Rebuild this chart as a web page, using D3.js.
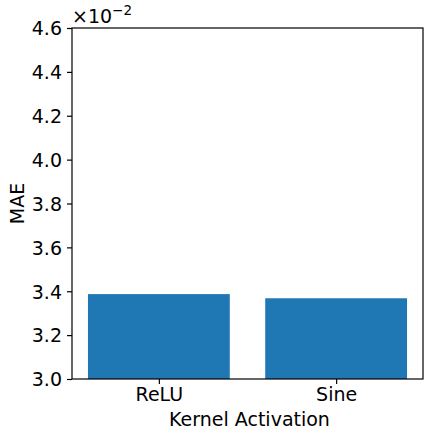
<!DOCTYPE html>
<html><head><meta charset="utf-8">
<script src="https://cdn.jsdelivr.net/npm/d3@7"></script>
<style>body{margin:0;background:#fff}svg{display:block}text{font-family:"DejaVu Sans",sans-serif;fill:#000}</style>
</head><body>
<script>
const categories = ["ReLU", "Sine"];
const maeValues = [3.387, 3.368]; // in units of 1e-2
const yTicks = [3.0, 3.2, 3.4, 3.6, 3.8, 4.0, 4.2, 4.4, 4.6];

const W = 432, H = 439;
const m = {left: 72, right: 9, top: 28, bottom: 60};
const FS = 19;
const svg = d3.select("body").append("svg").attr("width", W).attr("height", H);
const x = d3.scaleLinear().domain([-0.49, 1.49]).range([m.left, W - m.right]);
const y = d3.scaleLinear().domain([3.0, 4.6]).range([H - m.bottom, m.top]);

svg.selectAll("rect.bar").data(categories).join("rect").attr("class", "bar")
  .attr("x", (d, i) => x(i - 0.4)).attr("width", (d, i) => x(i + 0.4) - x(i - 0.4))
  .attr("y", (d, i) => y(maeValues[i])).attr("height", (d, i) => y(3.0) - y(maeValues[i]))
  .attr("fill", "#1f77b4");

const yAxis = d3.axisLeft(y).tickValues(yTicks).tickFormat(d3.format(".1f")).tickSize(5).tickPadding(5);
const gy = svg.append("g").attr("transform", `translate(${m.left},0)`).call(yAxis);
const xAxis = d3.axisBottom(x).tickValues([0, 1]).tickFormat((d) => categories[d]).tickSize(5).tickPadding(4);
const gx = svg.append("g").attr("transform", `translate(0,${H - m.bottom})`).call(xAxis);
[gx, gy].forEach(g => {
  g.selectAll("text").attr("font-size", FS).attr("font-family", "DejaVu Sans");
  g.select(".domain").remove();
  g.selectAll("line").attr("stroke", "#000").attr("stroke-width", 1.2);
});
gy.selectAll("text").attr("dy", "0.36em");

svg.append("rect").attr("x", m.left).attr("y", m.top)
  .attr("width", W - m.right - m.left).attr("height", H - m.bottom - m.top)
  .attr("fill", "none").attr("stroke", "#000").attr("stroke-width", 1.2);

svg.append("text").attr("x", (m.left + W - m.right) / 2 + 2).attr("y", 426)
  .attr("text-anchor", "middle").attr("font-size", FS).text("Kernel Activation");
svg.append("text").attr("transform", `translate(24,${(m.top + H - m.bottom) / 2}) rotate(-90)`)
  .attr("text-anchor", "middle").attr("font-size", FS).text("MAE");
const off = svg.append("text").attr("x", m.left).attr("y", 23).attr("font-size", FS);
off.append("tspan").text("×10");
off.append("tspan").attr("dy", -8).attr("font-size", 13.5).text("−2");
</script>
</body></html>
